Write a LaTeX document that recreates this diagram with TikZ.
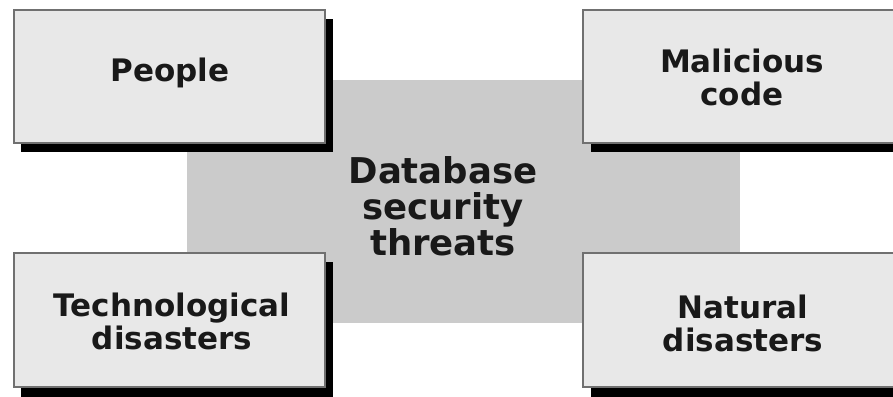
\documentclass[tikz,border=0pt]{standalone}
\usepackage{fontspec}
\setmainfont{DejaVu Sans}
\begin{document}
\begin{tikzpicture}[x=1bp,y=-1bp,
  boxfill/.style={fill=boxgray,draw=edgegray,line width=2bp},
  shadowfill/.style={fill=black},
  sidetext/.style={font=\bfseries\fontsize{31bp}{33bp}\selectfont,align=center,inner sep=0pt,text=black!90},
  centertext/.style={font=\bfseries\fontsize{35.5bp}{36bp}\selectfont,align=center,inner sep=0pt,text=black!90}]
\definecolor{boxgray}{HTML}{E8E8E8}
\definecolor{edgegray}{HTML}{707070}
\definecolor{midgray}{HTML}{CBCBCB}
\useasboundingbox (0,0) rectangle (893,396);
\fill[white] (0,0) rectangle (893,396);
% central band
\fill[midgray] (187,80) rectangle (740,323);
% shadows
\fill[shadowfill] (21,19) rectangle (333,152);
\fill[shadowfill] (591,19) rectangle (905,152);
\fill[shadowfill] (21,262) rectangle (333,400);
\fill[shadowfill] (591,262) rectangle (905,400);
% boxes
\draw[boxfill] (14,10) rectangle (325,143);
\draw[boxfill] (583,10) rectangle (905,143);
\draw[boxfill] (14,253) rectangle (325,387);
\draw[boxfill] (583,253) rectangle (905,387);
% texts
\node[sidetext] (people) at (170,73) {People};
\node[sidetext] (malicious) at (742,77) {Malicious\\code};
\node[sidetext] (tech) at (172,321) {Technological\\disasters};
\node[sidetext] (natural) at (743,323) {Natural\\disasters};
\node[centertext] (db) at (443,206) {Database\\security\\threats};
\end{tikzpicture}
\end{document}
